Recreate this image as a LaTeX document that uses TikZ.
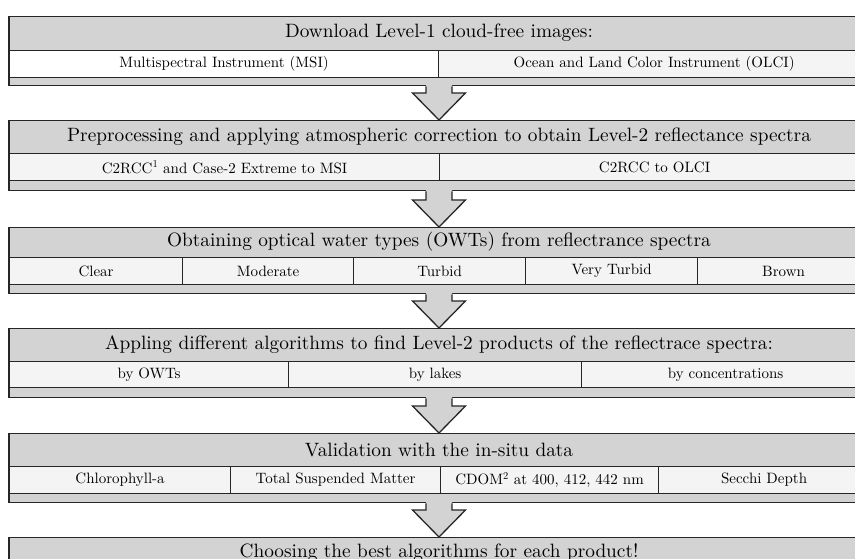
\documentclass[tikz,border=0pt]{standalone}
\usepackage{fontspec}
\setmainfont{lmroman10-regular.otf}
\usetikzlibrary{calc}
\definecolor{boxgrey}{HTML}{D3D3D3}
\definecolor{cellfill}{HTML}{F4F4F4}
\definecolor{linec}{HTML}{262626}
\newcommand\titlesize{\fontsize{19.3}{22}\selectfont}
\newcommand\cellsize{\fontsize{15}{17}\selectfont}
\begin{document}
\begin{tikzpicture}[x=1pt,y=-1pt,
  outerbox/.style={draw=linec, fill=boxgrey, line width=1.3pt, rectangle, inner sep=0pt, anchor=north, minimum width=860pt},
  cellbox/.style={draw=linec, fill=cellfill, line width=1.2pt, rectangle, inner sep=0pt, anchor=north west, minimum height=27pt, font=\cellsize},
  whitecell/.style={cellbox, fill=white},
  titletext/.style={inner sep=0pt, font=\titlesize},
  arrowline/.style={draw=linec, line width=1.3pt, line join=miter}
]
\useasboundingbox (0,0) rectangle (855,559);
\clip (0,0) rectangle (855,559);
% Box 1
\node[outerbox, minimum height=69pt] (b1) at (439,16) {};
\node[titletext] (b1t) at (439,33) {Download Level-1 cloud-free images:};
\node[whitecell, minimum width=429pt] (b1a) at (9,50) {Multispectral Instrument (MSI)};
\node[cellbox, minimum width=431pt] (b1b) at (438,50) {Ocean and Land Color Instrument (OLCI)};
% Box 2
\node[outerbox, minimum height=70pt] (b2) at (439,120) {};
\node[titletext] (b2t) at (439,137) {Preprocessing and applying atmospheric correction to obtain Level-2 reflectance spectra};
\node[cellbox, minimum width=430pt] (b2a) at (9,153) {C2RCC\textsuperscript{1} and Case-2 Extreme to MSI};
\node[cellbox, minimum width=430pt] (b2b) at (439,153) {C2RCC to OLCI};
% Box 3
\node[outerbox, minimum height=66pt] (b3) at (439,227) {};
\node[titletext] (b3t) at (439,242) {Obtaining optical water types (OWTs) from reflectrance spectra};
\node[cellbox, minimum width=173pt] (b3a) at (9,257) {Clear};
\node[cellbox, minimum width=171pt] (b3b) at (182,257) {Moderate};
\node[cellbox, minimum width=172pt] (b3c) at (353,257) {Turbid};
\node[cellbox, minimum width=172pt] (b3d) at (525,257) {Very Turbid};
\node[cellbox, minimum width=172pt] (b3e) at (697,257) {Brown};
% Box 4
\node[outerbox, minimum height=69pt] (b4) at (439,328) {};
\node[titletext] (b4t) at (439,345) {Appling different algorithms to find Level-2 products of the reflectrace spectra:};
\node[cellbox, minimum width=279pt, minimum height=26pt] (b4a) at (9,361) {by OWTs};
\node[cellbox, minimum width=293pt, minimum height=26pt] (b4b) at (288,361) {by lakes};
\node[cellbox, minimum width=288pt, minimum height=26pt] (b4c) at (581,361) {by concentrations};
% Box 5
\node[outerbox, minimum height=69pt] (b5) at (439,433) {};
\node[titletext] (b5t) at (439,450) {Validation with the in-situ data};
\node[cellbox, minimum width=221pt] (b5a) at (9,466) {Chlorophyll-a};
\node[cellbox, minimum width=210pt] (b5b) at (230,466) {Total Suspended Matter};
\node[cellbox, minimum width=218pt] (b5c) at (440,466) {CDOM\textsuperscript{2} at 400, 412, 442 nm};
\node[cellbox, minimum width=211pt] (b5d) at (658,466) {Secchi Depth};
% Box 6
\node[outerbox, minimum height=69pt] (b6) at (439,537) {};
\node[titletext] (b6t) at (439,552.5) {Choosing the best algorithms for each product!};
% Arrows
\foreach \s/\t in {b1/b2,b2/b3,b3/b4,b4/b5,b5/b6}{
  \fill[boxgrey] ($(\s.south)+(-13,-2)$) -- ($(\t.north)+(-13,-27)$) -- ($(\t.north)+(-26.5,-27)$)
    -- (\t.north) -- ($(\t.north)+(26.5,-27)$) -- ($(\t.north)+(13,-27)$) -- ($(\s.south)+(13,-2)$) -- cycle;
  \draw[arrowline] ($(\s.south)+(-13,0)$) -- ($(\t.north)+(-13,-27)$) -- ($(\t.north)+(-26.5,-27)$)
    -- (\t.north) -- ($(\t.north)+(26.5,-27)$) -- ($(\t.north)+(13,-27)$) -- ($(\s.south)+(13,0)$);
}
\end{tikzpicture}
\end{document}
